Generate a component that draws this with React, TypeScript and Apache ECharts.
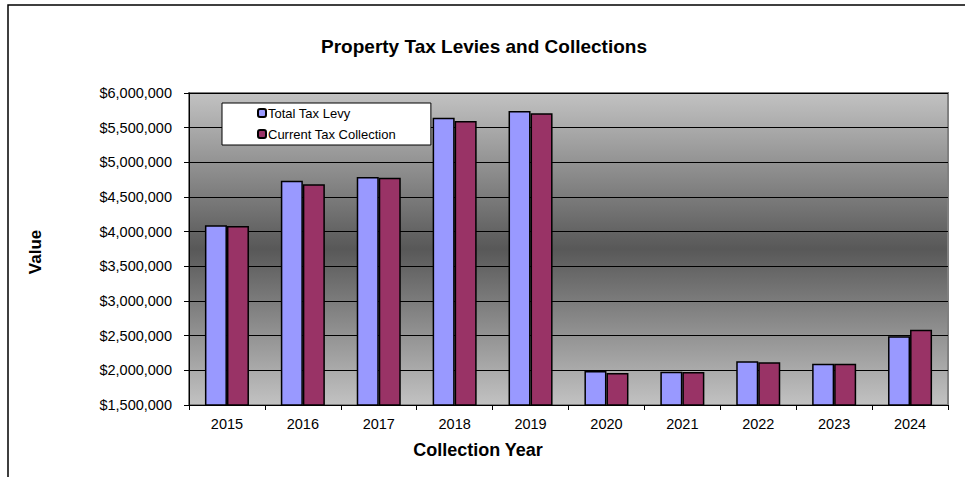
import React, { useEffect, useRef } from "react";
import * as echarts from "echarts";

const years = ["2015", "2016", "2017", "2018", "2019", "2020", "2021", "2022", "2023", "2024"];
const totalTaxLevy = [4092000, 4735000, 4788000, 5644000, 5740000, 1990000, 1981000, 2130000, 2096000, 2490000];
const currentTaxCollection = [4082000, 4683000, 4778000, 5596000, 5707000, 1962000, 1976000, 2116000, 2096000, 2587000];
const seriesNames = ["Total Tax Levy", "Current Tax Collection"];
const titleText = "Property Tax Levies and Collections";
const xAxisTitle = "Collection Year";
const yAxisTitle = "Value";

const FONT = "'Liberation Sans', Arial, sans-serif";

export default function App() {
  const ref = useRef<HTMLDivElement>(null);
  useEffect(() => {
    if (!ref.current) return;
    const chart = echarts.init(ref.current, null, { renderer: "svg" });
    const fmt = (v: number) => "$" + v.toLocaleString("en-US");
    chart.setOption({
      animation: false,
      backgroundColor: "#ffffff",
      textStyle: { fontFamily: FONT },
      grid: {
        left: 189,
        top: 93,
        right: 22,
        bottom: 72,
        show: true,
        borderColor: "#808080",
        borderWidth: 2,
        backgroundColor: new echarts.graphic.LinearGradient(0, 0, 0, 1, [
          { offset: 0, color: "#c2c2c2" },
          { offset: 0.5, color: "#585858" },
          { offset: 1, color: "#c2c2c2" },
        ]),
      },
      legend: {
        orient: "vertical",
        left: 222,
        top: 103,
        backgroundColor: "#ffffff",
        borderColor: "#000000",
        borderWidth: 1,
        borderRadius: 0,
        padding: [3, 35, 4, 35],
        itemWidth: 8,
        itemHeight: 8,
        itemGap: 7,
        textStyle: { fontFamily: FONT, fontSize: 13, color: "#000", lineHeight: 14, padding: [0, 0, 0, -3] },
        data: seriesNames,
      },
      xAxis: {
        type: "category",
        data: years,
        axisLine: { lineStyle: { color: "#000", width: 1 } },
        axisTick: { show: true, length: 5, lineStyle: { color: "#000" } },
        axisLabel: { color: "#000", fontSize: 14.5, fontFamily: FONT, margin: 11 },
        splitLine: { show: false },
      },
      yAxis: {
        type: "value",
        min: 1500000,
        max: 6000000,
        interval: 500000,
        axisLine: { show: true, lineStyle: { color: "#000", width: 1 } },
        axisTick: { show: true, length: 5, lineStyle: { color: "#000" } },
        axisLabel: { color: "#000", fontSize: 14.5, fontFamily: FONT, margin: 17, formatter: fmt },
        splitLine: { show: true, lineStyle: { color: "#000", width: 1 } },
      },
      series: [
        {
          name: seriesNames[0],
          type: "bar",
          data: totalTaxLevy,
          barGap: "0%",
          barCategoryGap: "42%",
          itemStyle: { color: "#9999ff", borderColor: "#000", borderWidth: 1.5 },
        },
        {
          name: seriesNames[1],
          type: "bar",
          data: currentTaxCollection,
          barGap: "0%",
          barCategoryGap: "42%",
          itemStyle: { color: "#993366", borderColor: "#000", borderWidth: 1.5 },
        },
      ],
      graphic: [
        {
          type: "polyline",
          shape: { points: [[8, 477], [8, 5], [965, 5]] },
          style: { stroke: "#000", lineWidth: 1.5, fill: "none" },
          silent: true,
        },
        {
          type: "text",
          x: 484,
          y: 46,
          style: {
            text: titleText,
            align: "center",
            verticalAlign: "middle",
            font: `bold 19px ${FONT}`,
            fill: "#000",
          },
        },
        {
          type: "text",
          x: 478,
          y: 450,
          style: {
            text: xAxisTitle,
            align: "center",
            verticalAlign: "middle",
            font: `bold 18px ${FONT}`,
            fill: "#000",
          },
        },
        {
          type: "text",
          x: 35,
          y: 252,
          rotation: Math.PI / 2,
          style: {
            text: yAxisTitle,
            align: "center",
            verticalAlign: "middle",
            font: `bold 17px ${FONT}`,
            fill: "#000",
          },
        },
      ],
    });
    return () => chart.dispose();
  }, []);
  return (
    <div
      ref={ref}
      style={{ position: "fixed", left: 0, top: 0, width: 970, height: 477 }}
    />
  );
}
